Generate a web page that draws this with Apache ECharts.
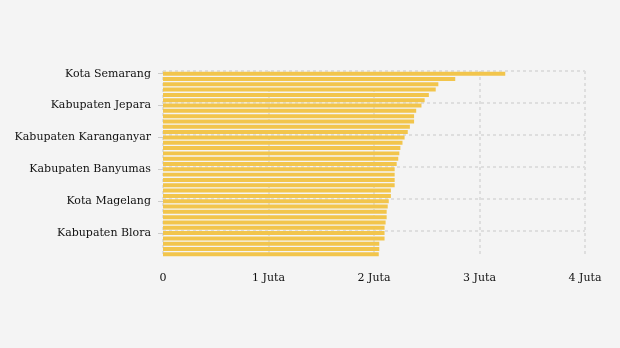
<!DOCTYPE html>
<html><head><meta charset="utf-8">
<script src="https://cdn.jsdelivr.net/npm/echarts@6/dist/echarts.min.js"></script>
<style>html,body{margin:0;padding:0;background:#f4f4f4}#c{width:620px;height:348px}</style>
</head><body><div id="c"></div>
<script>
var categories = ["Kota Semarang","Kabupaten Demak","Kabupaten Kendal","Kabupaten Semarang","Kabupaten Kudus","Kabupaten Cilacap","Kabupaten Jepara","Kabupaten Batang","Kota Pekalongan","Kabupaten Pekalongan","Kota Salatiga","Kota Surakarta","Kabupaten Karanganyar","Kabupaten Sukoharjo","Kabupaten Boyolali","Kabupaten Klaten","Kabupaten Purbalingga","Kota Tegal","Kabupaten Banyumas","Kabupaten Magelang","Kabupaten Temanggung","Kabupaten Wonosobo","Kabupaten Pati","Kabupaten Tegal","Kota Magelang","Kabupaten Purworejo","Kabupaten Kebumen","Kabupaten Brebes","Kabupaten Pemalang","Kabupaten Rembang","Kabupaten Blora","Kabupaten Grobogan","Kabupaten Wonogiri","Kabupaten Sragen","Kabupaten Banjarnegara"];
var values = [3244000,2770000,2610000,2585000,2520000,2480000,2450000,2400000,2380000,2380000,2340000,2320000,2290000,2270000,2250000,2240000,2230000,2215000,2196000,2196000,2196000,2196000,2160000,2160000,2140000,2130000,2120000,2120000,2110000,2100000,2100000,2100000,2050000,2050000,2045000];
var tickLabels = ["0","1 Juta","2 Juta","3 Juta","4 Juta"];

var chart = echarts.init(document.getElementById('c'));
chart.setOption({
  backgroundColor: '#f4f4f4',
  animation: false,
  textStyle: {fontFamily: 'DejaVu Serif'},
  grid: {left: 163, right: 35, top: 71, bottom: 91, containLabel: false},
  xAxis: {
    type: 'value', min: 0, max: 4000000, interval: 1000000,
    axisLine: {show: false}, axisTick: {show: false},
    axisLabel: {color: '#111', fontSize: 11, fontFamily: 'DejaVu Serif', margin: 16,
      formatter: function (v) { return tickLabels[Math.round(v / 1000000)]; }},
    splitLine: {show: true, lineStyle: {color: '#dedede', width: 2, type: [3, 3]}}
  },
  yAxis: {
    type: 'category', data: categories, inverse: true,
    axisLine: {show: false},
    axisTick: {show: true, interval: 5, alignWithLabel: true, length: 5, lineStyle: {color: '#cccccc'}},
    axisLabel: {interval: 5, color: '#111', fontSize: 11, fontFamily: 'DejaVu Serif', margin: 12},
    splitLine: {show: true, showMaxLine: false, interval: 5, lineStyle: {color: '#dedede', width: 2, type: [3, 3]}}
  },
  series: [{
    type: 'bar', data: values, barCategoryGap: '25%',
    itemStyle: {color: '#f2c54c'}
  }]
});
</script></body></html>
